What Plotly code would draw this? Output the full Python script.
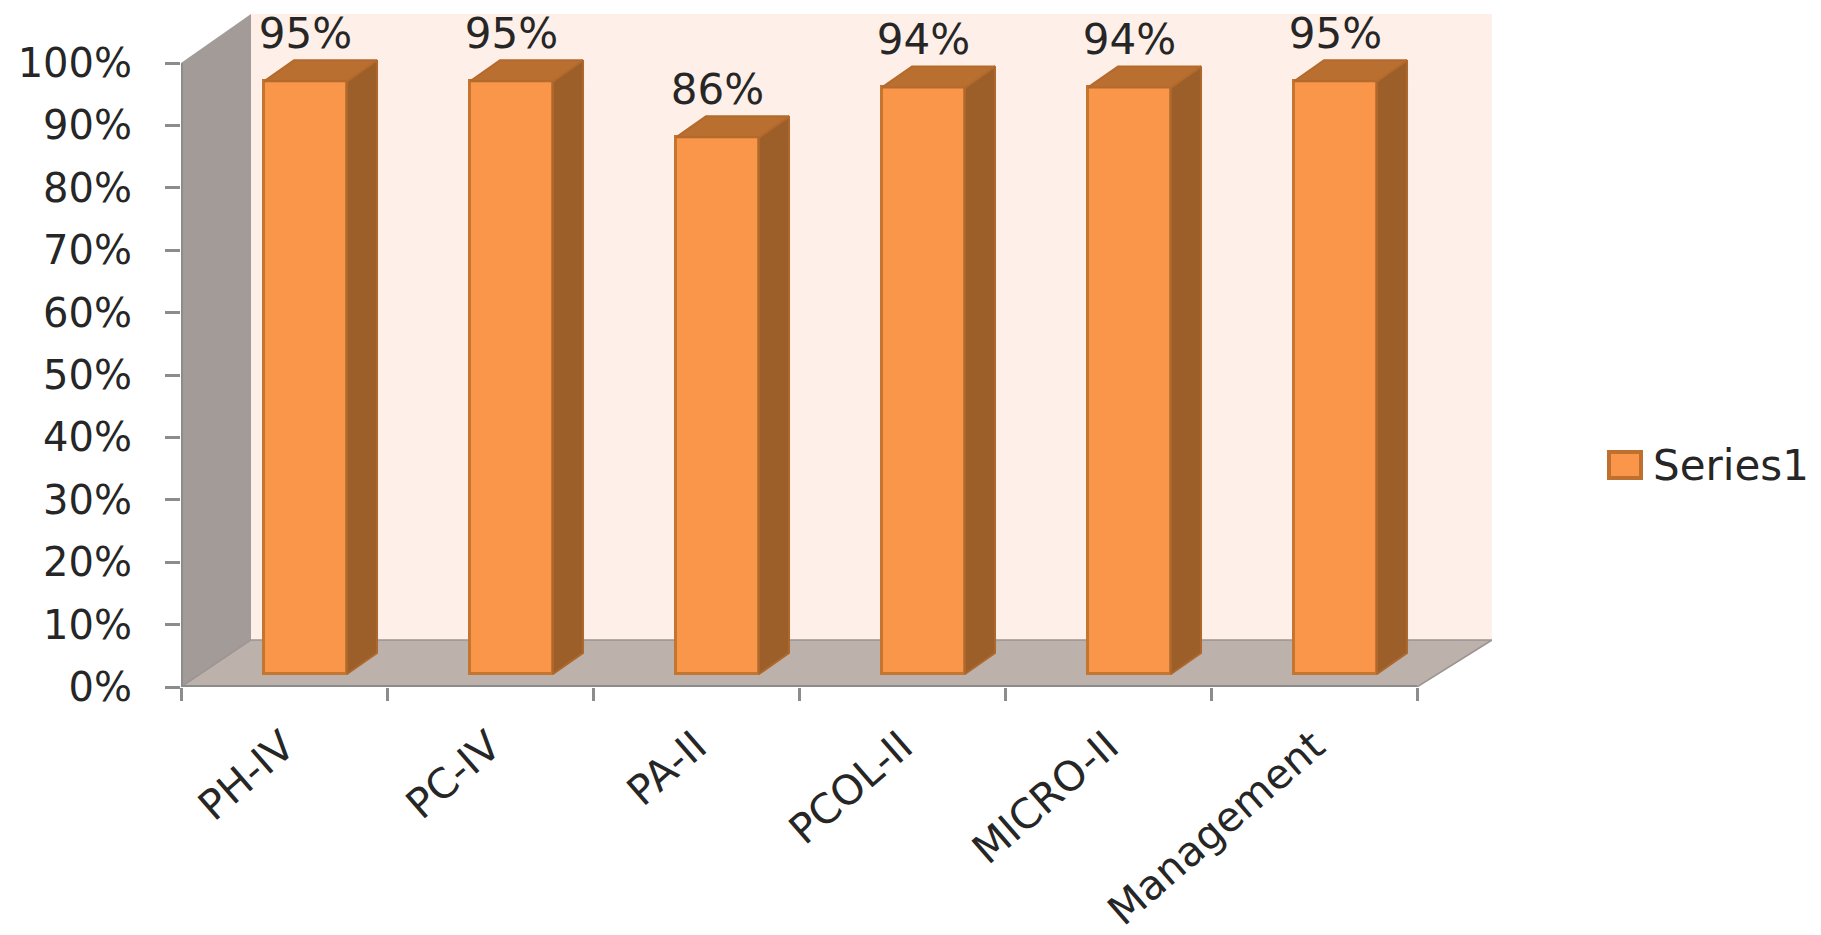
import plotly.graph_objects as go

categories = ["PH-IV", "PC-IV", "PA-II", "PCOL-II", "MICRO-II", "Management"]
values = [95, 95, 86, 94, 94, 95]
value_labels = ["95%", "95%", "86%", "94%", "94%", "95%"]
y_ticks = [0, 10, 20, 30, 40, 50, 60, 70, 80, 90, 100]
y_tick_labels = ["0%", "10%", "20%", "30%", "40%", "50%", "60%", "70%", "80%", "90%", "100%"]
series_name = "Series1"

# Pixel scale of the picture, used to express the oblique projection in data units
PX_X = 206.0
PX_Y = 6.24
WALL_DX_L = 70 / PX_X
WALL_DX_R = 75 / PX_X
WALL_DY = 47 / PX_Y
BAR_W = 83 / PX_X
BAR_X0 = 0.1045
BAR_BASE = 13 / PX_Y
BAR_DX = 30 / PX_X
BAR_DY = 21 / PX_Y
LABEL_LIFT = 44 / PX_Y
FONT = "DejaVu Sans, sans-serif"
TEXT = "#262626"
AXIS = "#8c8c8c"
Y_FONT_SIZE = 40
X_FONT_SIZE = 41
LABEL_FONT_SIZE = 42
LEGEND_FONT_SIZE = 42

L, R, T, B = 181, 329, 14, 248
W, H = 1821, 935
x_lo, x_hi = -0.5, 5.5
y_top = (H - B - T) / PX_Y

xs = [i + BAR_X0 for i in range(len(categories))]

fig = go.Figure()

fig.add_trace(go.Bar(
    x=xs, y=values, base=BAR_BASE, width=BAR_W, name=series_name,
    marker=dict(color="#F9964A", line=dict(color="#C4752F", width=3)),
    showlegend=False, hoverinfo="skip",
))

for x, v in zip(xs, values):
    xr = x + BAR_W / 2
    xl = x - BAR_W / 2
    top = v + BAR_BASE
    # side face
    fig.add_trace(go.Scatter(
        x=[xr, xr + BAR_DX, xr + BAR_DX, xr, xr],
        y=[BAR_BASE, BAR_BASE + BAR_DY, top + BAR_DY, top, BAR_BASE],
        mode="lines", fill="toself", fillcolor="#9C5F2A",
        line=dict(color="#AE682D", width=2), showlegend=False, hoverinfo="skip",
    ))
    # top face
    fig.add_trace(go.Scatter(
        x=[xl, xl + BAR_DX, xr + BAR_DX, xr, xl],
        y=[top, top + BAR_DY, top + BAR_DY, top, top],
        mode="lines", fill="toself", fillcolor="#B96F30",
        line=dict(color="#B36A2C", width=2), showlegend=False, hoverinfo="skip",
    ))

fig.add_trace(go.Scatter(
    x=xs, y=[v + BAR_BASE + LABEL_LIFT for v in values], text=value_labels,
    mode="text", textposition="middle center", cliponaxis=False,
    textfont=dict(family=FONT, size=LABEL_FONT_SIZE, color=TEXT),
    showlegend=False, hoverinfo="skip",
))


def poly(pts):
    return "M" + "L".join(f"{x},{y}" for x, y in pts) + "Z"


shapes = [
    # back wall
    dict(type="path", xref="x", yref="y", layer="below", line=dict(width=0), fillcolor="#FEF0E8",
         path=poly([(x_lo + WALL_DX_L, WALL_DY), (x_hi + WALL_DX_R, WALL_DY),
                    (x_hi + WALL_DX_R, y_top), (x_lo + WALL_DX_L, y_top)])),
    # side wall
    dict(type="path", xref="x", yref="y", layer="below", line=dict(width=0), fillcolor="#A39B97",
         path=poly([(x_lo, 0), (x_lo + WALL_DX_L, WALL_DY), (x_lo + WALL_DX_L, y_top), (x_lo, 100)])),
    # floor
    dict(type="path", xref="x", yref="y", layer="below", line=dict(color="#9b9492", width=1.5),
         fillcolor="#BDB1AC",
         path=poly([(x_lo, 0), (x_hi, 0), (x_hi + WALL_DX_R, WALL_DY), (x_lo + WALL_DX_L, WALL_DY)])),
    # axis lines
    dict(type="line", xref="x", yref="y", x0=x_lo, x1=x_hi, y0=0, y1=0, layer="above",
         line=dict(color=AXIS, width=4)),
    dict(type="line", xref="x", yref="y", x0=x_lo, x1=x_lo, y0=0, y1=100, layer="above",
         line=dict(color=AXIS, width=4)),
    # legend swatch
    dict(type="rect", xref="paper", yref="paper",
         x0=(1609 - L) / (W - L - R), x1=(1641 - L) / (W - L - R),
         y0=(H - B - 478) / (H - T - B), y1=(H - B - 452) / (H - T - B),
         fillcolor="#F9964A", line=dict(color="#C0702E", width=4)),
]

fig.update_layout(
    width=W, height=H, margin=dict(l=L, r=R, t=T, b=B),
    paper_bgcolor="white", plot_bgcolor="rgba(0,0,0,0)", showlegend=False,
    shapes=shapes, bargap=0,
    annotations=[dict(
        text=series_name, xref="paper", yref="paper",
        x=(1651 - L) / (W - L - R), y=(H - B - 465) / (H - T - B),
        xanchor="left", yanchor="middle", showarrow=False,
        font=dict(family=FONT, size=LEGEND_FONT_SIZE, color=TEXT),
    )],
    xaxis=dict(
        range=[x_lo, x_hi + WALL_DX_R], tickmode="array", automargin=False,
        tickvals=list(range(len(categories))), ticktext=categories,
        ticks="", tickangle=-41, showgrid=False, zeroline=False, showline=False,
        ticklabelstandoff=26,
        tickfont=dict(family=FONT, size=X_FONT_SIZE, color=TEXT),
        minor=dict(tickmode="array", tickvals=[i - 0.5 for i in range(len(categories) + 1)],
                   ticks="outside", ticklen=13, tickwidth=3, tickcolor=AXIS, showgrid=False),
    ),
    yaxis=dict(
        range=[0, y_top], tickmode="array", tickvals=y_ticks, ticktext=y_tick_labels,
        ticks="outside", ticklen=15, tickwidth=3, tickcolor=AXIS, automargin=False,
        showgrid=False, zeroline=False, showline=False, ticklabelstandoff=25,
        tickfont=dict(family=FONT, size=Y_FONT_SIZE, color=TEXT),
    ),
)

fig.write_html("out.html", config={"displayModeBar": False},
               post_script="document.body.style.margin='0';document.body.style.overflow='hidden';")
